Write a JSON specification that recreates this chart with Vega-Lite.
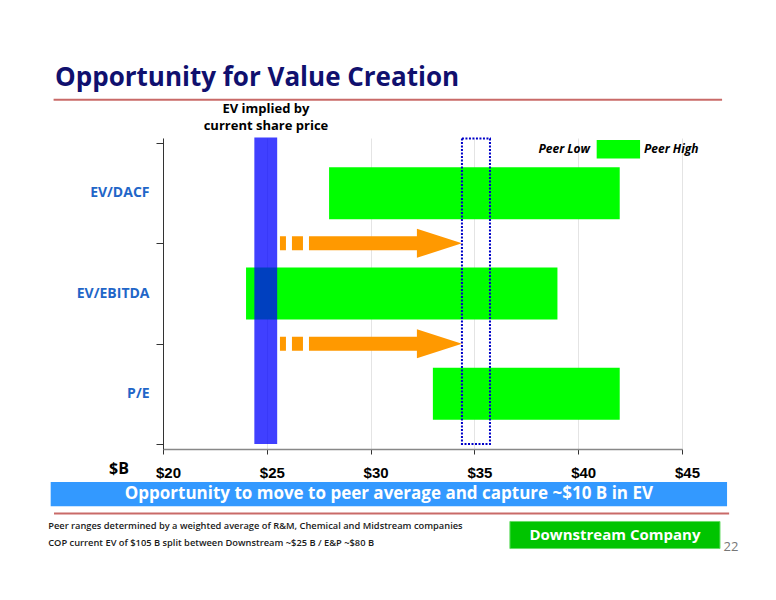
{
  "$schema": "https://vega.github.io/schema/vega-lite/v6.json",
  "width": 519,
  "height": 311,
  "autosize": {"type": "none"},
  "padding": {"left": 163, "top": 138, "right": 94, "bottom": 151},
  "background": "white",
  "config": {"view": {"stroke": null}},
  "layer": [
    {
      "data": {"values": [
        {"metric": "EV/DACF", "level": 2.5, "low": 28, "high": 42},
        {"metric": "EV/EBITDA", "level": 1.5, "low": 24, "high": 39},
        {"metric": "P/E", "level": 0.5, "low": 33, "high": 42}
      ]},
      "mark": {"type": "bar", "orient": "horizontal", "size": 52, "color": "#00ff00"},
      "encoding": {
        "x": {
          "field": "low", "type": "quantitative",
          "scale": {"domain": [20, 45], "nice": false, "zero": false},
          "axis": {
            "title": null, "values": [20, 25, 30, 35, 40, 45],
            "labelExpr": "'$' + datum.value",
            "labelFont": "Liberation Sans", "labelFontWeight": "bold", "labelFontSize": 15,
            "labelColor": "#000000", "labelOffset": 5, "labelPadding": 11, "labelFlush": false,
            "tickSize": 5, "tickColor": "#333333", "domainColor": "#888888", "domainWidth": 1.5,
            "grid": true, "gridColor": "#e4e4e4"
          }
        },
        "x2": {"field": "high"},
        "y": {
          "field": "level", "type": "quantitative",
          "scale": {"domain": [0, 3], "nice": false, "zero": false},
          "axis": {
            "title": null, "values": [0, 1, 2, 3], "labels": false,
            "tickSize": 7, "tickColor": "#333333", "domainColor": "#333333", "grid": false
          }
        }
      }
    },
    {
      "data": {"values": [
        {"metric": "EV/DACF", "level": 2.5},
        {"metric": "EV/EBITDA", "level": 1.5},
        {"metric": "P/E", "level": 0.5}
      ]},
      "mark": {"type": "text", "align": "right", "baseline": "middle", "font": "Open Sans", "fontWeight": "bold", "fontSize": 14, "color": "#1f66c8"},
      "encoding": {
        "x": {"datum": 19.35},
        "y": {"field": "level", "type": "quantitative"},
        "text": {"field": "metric"}
      }
    },
    {
      "data": {"values": [{"low": 24.4, "high": 25.5}]},
      "mark": {"type": "rect", "color": "#0000ff", "opacity": 0.75},
      "encoding": {
        "x": {"field": "low", "type": "quantitative"},
        "x2": {"field": "high"},
        "y": {"datum": 0},
        "y2": {"datum": 3.055}
      }
    },
    {
      "data": {"values": [{"low": 34.4, "high": 35.75}]},
      "mark": {"type": "rect", "fillOpacity": 0, "stroke": "#0000c8", "strokeWidth": 2, "strokeDash": [2, 1.5]},
      "encoding": {
        "x": {"field": "low", "type": "quantitative"},
        "x2": {"field": "high"},
        "y": {"datum": 0},
        "y2": {"datum": 3.045}
      }
    },
    {
      "data": {"values": [
        {"boundary": 2, "tip": 34.4},
        {"boundary": 1, "tip": 34.4}
      ]},
      "mark": {
        "type": "point", "filled": true, "color": "#ff9900", "opacity": 1, "strokeWidth": 0, "size": 33124,
        "shape": "M-2,-0.077L-1.934,-0.077L-1.934,0.077L-2,0.077Z M-1.868,-0.077L-1.747,-0.077L-1.747,0.077L-1.868,0.077Z M-1.681,-0.077L-0.495,-0.077L-0.495,-0.159L0,0L-0.495,0.159L-0.495,0.077L-1.681,0.077Z"
      },
      "encoding": {
        "x": {"field": "tip", "type": "quantitative"},
        "y": {"field": "boundary", "type": "quantitative"}
      }
    },
    {
      "data": {"values": [{}]},
      "mark": {"type": "text", "text": "Opportunity for Value Creation", "align": "left", "baseline": "alphabetic", "font": "Open Sans", "fontWeight": "bold", "fontSize": 26, "color": "#10106e"},
      "encoding": {"x": {"datum": 14.8}, "y": {"datum": 3.564}}
    },
    {
      "data": {"values": [{}]},
      "mark": {"type": "rule", "color": "#c0504d", "strokeWidth": 2, "opacity": 0.85},
      "encoding": {"x": {"datum": 14.73}, "x2": {"datum": 46.93}, "y": {"datum": 3.431}}
    },
    {
      "data": {"values": [{}]},
      "mark": {"type": "text", "text": ["EV implied by", "current share price"], "lineHeight": 17, "align": "center", "baseline": "alphabetic", "font": "Open Sans", "fontWeight": "bold", "fontSize": 13, "color": "#000000"},
      "encoding": {"x": {"datum": 24.96}, "y": {"datum": 3.299}}
    },
    {
      "data": {"values": [{}]},
      "mark": {"type": "text", "text": "Peer Low", "align": "right", "baseline": "middle", "font": "Open Sans", "fontWeight": "bold", "fontStyle": "italic", "fontSize": 12, "color": "#000000"},
      "encoding": {"x": {"datum": 40.57}, "y": {"datum": 2.939}}
    },
    {
      "data": {"values": [{}]},
      "mark": {"type": "rect", "color": "#00ff00"},
      "encoding": {"x": {"datum": 40.89}, "x2": {"datum": 42.98}, "y": {"datum": 2.846}, "y2": {"datum": 3.029}}
    },
    {
      "data": {"values": [{}]},
      "mark": {"type": "text", "text": "Peer High", "align": "left", "baseline": "middle", "font": "Open Sans", "fontWeight": "bold", "fontStyle": "italic", "fontSize": 12, "color": "#000000"},
      "encoding": {"x": {"datum": 43.17}, "y": {"datum": 2.939}}
    },
    {
      "data": {"values": [{}]},
      "mark": {"type": "text", "text": "$B", "align": "center", "baseline": "middle", "font": "Open Sans", "fontWeight": "bold", "fontSize": 16, "color": "#000000"},
      "encoding": {"x": {"datum": 17.88}, "y": {"datum": -0.25}}
    },
    {
      "data": {"values": [{}]},
      "mark": {"type": "rect", "color": "#3399ff"},
      "encoding": {"x": {"datum": 14.59}, "x2": {"datum": 47.17}, "y": {"datum": -0.379}, "y2": {"datum": -0.62}}
    },
    {
      "data": {"values": [{}]},
      "mark": {"type": "text", "text": "Opportunity to move to peer average and capture ~$10 B in EV", "align": "center", "baseline": "middle", "font": "Open Sans", "fontWeight": "bold", "fontSize": 17, "color": "#ffffff"},
      "encoding": {"x": {"datum": 30.88}, "y": {"datum": -0.5}}
    },
    {
      "data": {"values": [{}]},
      "mark": {"type": "rule", "color": "#c0504d", "strokeWidth": 2, "opacity": 0.85},
      "encoding": {"x": {"datum": 14.75}, "x2": {"datum": 47.27}, "y": {"datum": -0.692}}
    },
    {
      "data": {"values": [{}]},
      "mark": {"type": "text", "text": "Peer ranges determined by a weighted average of R&M, Chemical and Midstream companies", "align": "left", "baseline": "middle", "font": "Open Sans", "fontWeight": 600, "fontSize": 9.3, "color": "#1a1a1a"},
      "encoding": {"x": {"datum": 14.47}, "y": {"datum": -0.813}}
    },
    {
      "data": {"values": [{}]},
      "mark": {"type": "text", "text": "COP current EV of $105 B split between Downstream ~$25 B / E&P ~$80 B", "align": "left", "baseline": "middle", "font": "Open Sans", "fontWeight": 600, "fontSize": 9.3, "color": "#1a1a1a"},
      "encoding": {"x": {"datum": 14.47}, "y": {"datum": -0.984}}
    },
    {
      "data": {"values": [{}]},
      "mark": {"type": "rect", "color": "#00c400", "stroke": "#66dd66", "strokeWidth": 1},
      "encoding": {"x": {"datum": 36.71}, "x2": {"datum": 46.83}, "y": {"datum": -0.772}, "y2": {"datum": -1.042}}
    },
    {
      "data": {"values": [{}]},
      "mark": {"type": "text", "text": "Downstream Company", "align": "center", "baseline": "middle", "font": "Open Sans", "fontWeight": "bold", "fontSize": 15, "color": "#ffffff"},
      "encoding": {"x": {"datum": 41.77}, "y": {"datum": -0.907}}
    },
    {
      "data": {"values": [{}]},
      "mark": {"type": "text", "text": "22", "align": "center", "baseline": "middle", "font": "Open Sans", "fontSize": 13, "color": "#777777"},
      "encoding": {"x": {"datum": 47.36}, "y": {"datum": -1.022}}
    }
  ]
}
